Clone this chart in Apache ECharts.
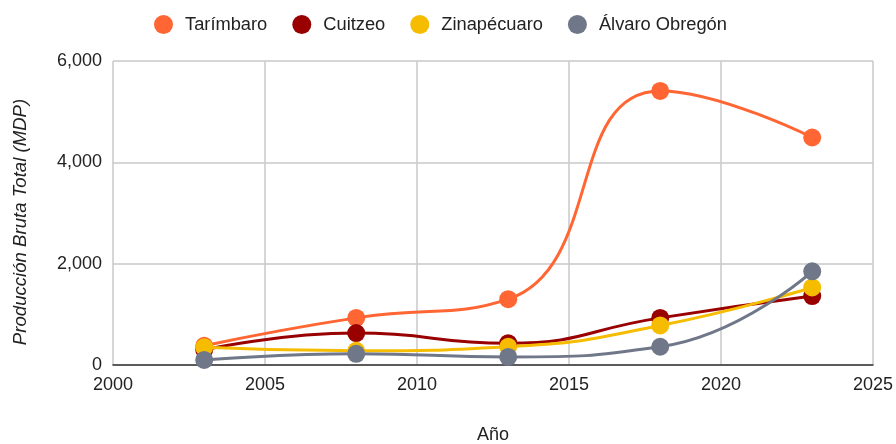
<!DOCTYPE html>
<html><head><meta charset="utf-8">
<script src="https://cdn.jsdelivr.net/npm/echarts@6/dist/echarts.min.js"></script>
<style>html,body{margin:0;padding:0;background:#fff}#c{width:896px;height:444px}</style>
</head><body><div id="c"></div>
<script>
var years = [2003, 2008, 2013, 2018, 2023];
var tarimbaro = [380, 930, 1300, 5410, 4490];
var cuitzeo = [300, 630, 430, 930, 1360];
var zinapecuaro = [350, 280, 360, 780, 1530];
var alvaroObregon = [100, 220, 160, 360, 1850];
var seriesNames = ['Tarímbaro', 'Cuitzeo', 'Zinapécuaro', 'Álvaro Obregón'];
var seriesData = [tarimbaro, cuitzeo, zinapecuaro, alvaroObregon];
var colors = ['#ff6633', '#990000', '#f6bd00', '#6f7789'];

var font = 'Liberation Sans, Arial, sans-serif';
var chart = echarts.init(document.getElementById('c'));
chart.setOption({
  animation: false,
  color: colors,
  textStyle: {fontFamily: font},
  legend: {
    top: 10, left: 149, icon: 'circle', itemWidth: 19, itemHeight: 19, itemGap: 25,
    textStyle: {fontSize: 18.3, color: '#222', fontFamily: font, padding: [0, 0, 0, 7]},
    data: seriesNames
  },
  grid: {left: 113, right: 23, top: 61, bottom: 79, containLabel: false, outerBoundsMode: 'none'},
  xAxis: {
    type: 'value', min: 2000, max: 2025, interval: 5,
    name: 'Año', nameLocation: 'middle', nameGap: 61,
    nameTextStyle: {fontSize: 18, color: '#222', fontFamily: font},
    axisLine: {show: true, lineStyle: {color: '#333', width: 1.5}},
    axisTick: {show: false},
    axisLabel: {fontSize: 18, color: '#222', margin: 11, fontFamily: font, formatter: function(v){return String(v);}},
    splitLine: {show: true, lineStyle: {color: '#c8c8c8', width: 1.5}}
  },
  yAxis: {
    type: 'value', min: 0, max: 6000, interval: 2000,
    name: 'Producción Bruta Total (MDP)', nameLocation: 'middle', nameGap: 83,
    nameTextStyle: {fontSize: 18.6, color: '#222', fontStyle: 'italic', fontFamily: font, padding: [0, 18, 0, 0]},
    axisLine: {show: false}, axisTick: {show: false},
    axisLabel: {fontSize: 18, color: '#222', margin: 11, fontFamily: font,
      formatter: function(v){return v.toLocaleString('en-US');}},
    splitLine: {show: true, lineStyle: {color: '#c8c8c8', width: 1.5}}
  },
  series: seriesData.map(function(d, i){
    return {
      name: seriesNames[i], type: 'line', smooth: 0.5,
      symbol: 'circle', symbolSize: 18,
      lineStyle: {width: 3, color: colors[i]},
      itemStyle: {color: colors[i]},
      data: years.map(function(y, j){ return [y, d[j]]; })
    };
  })
});
</script></body></html>
